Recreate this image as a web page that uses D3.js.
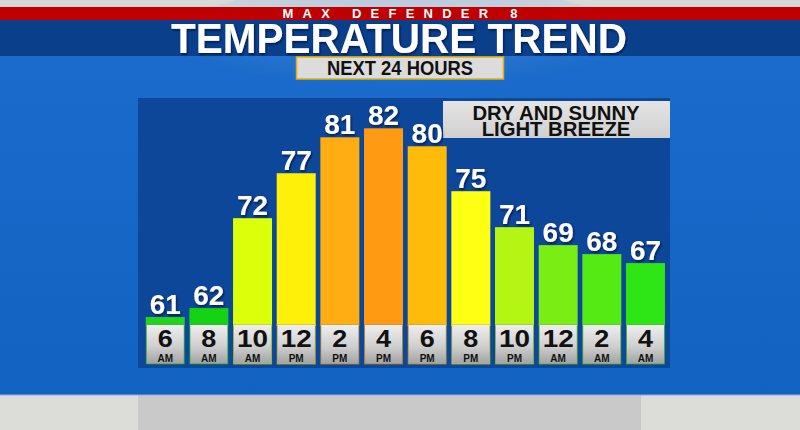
<!DOCTYPE html>
<html><head><meta charset="utf-8">
<script src="https://cdn.jsdelivr.net/npm/d3@7"></script>
<style>html,body{margin:0;padding:0;background:#d8d8d8;}svg{display:block;font-family:"Liberation Sans",Arial,sans-serif;}</style>
</head><body><svg id="c" width="800" height="430"></svg>
<script>
// ---- data ----
const hours   = ["6","8","10","12","2","4","6","8","10","12","2","4"];
const periods = ["AM","AM","AM","PM","PM","PM","PM","PM","PM","AM","AM","AM"];
const temps   = [61,62,72,77,81,82,80,75,71,69,68,67];
const barColors = ["#22d41e","#14d214","#dcff0a","#fff00a","#ffad12","#ff9a12","#ffbb0a","#ffff14","#b4f514","#78ee14","#55ea14","#2ee614"];
const brand = "MAX DEFENDER 8";
const title = "TEMPERATURE TREND";
const subtitle = "NEXT 24 HOURS";
const noteLines = ["DRY AND SUNNY","LIGHT BREEZE"];

const svg = d3.select("#c");
const defs = svg.append("defs");

const sky = defs.append("linearGradient").attr("id","sky").attr("x1",0).attr("y1",0).attr("x2",0).attr("y2",1);
sky.append("stop").attr("offset","0%").attr("stop-color","#1a6bcb");
sky.append("stop").attr("offset","100%").attr("stop-color","#1262c2");
const glow = defs.append("radialGradient").attr("id","glow").attr("cx","50%").attr("cy","0%").attr("r","60%");
glow.append("stop").attr("offset","0%").attr("stop-color","#8fb8e8").attr("stop-opacity",0.5);
glow.append("stop").attr("offset","100%").attr("stop-color","#8fb8e8").attr("stop-opacity",0);
const lab = defs.append("linearGradient").attr("id","lab").attr("x1",0).attr("y1",0).attr("x2",0).attr("y2",1);
lab.append("stop").attr("offset","0%").attr("stop-color","#efefef");
lab.append("stop").attr("offset","55%").attr("stop-color","#cfcfcf");
lab.append("stop").attr("offset","100%").attr("stop-color","#a2a2a2");
const note = defs.append("linearGradient").attr("id","note").attr("x1",0).attr("y1",0).attr("x2",0).attr("y2",1);
note.append("stop").attr("offset","0%").attr("stop-color","#e4e4e4");
note.append("stop").attr("offset","100%").attr("stop-color","#d0d0d0");
const sh = defs.append("filter").attr("id","sh").attr("x","-20%").attr("y","-20%").attr("width","140%").attr("height","140%");
sh.append("feDropShadow").attr("dx",1).attr("dy",1.5).attr("stdDeviation",1).attr("flood-color","#001030").attr("flood-opacity",0.8);

// background
svg.append("rect").attr("x",0).attr("y",0).attr("width",800).attr("height",430).attr("fill","#d8d8d8");
svg.append("rect").attr("x",0).attr("y",56).attr("width",800).attr("height",339).attr("fill","url(#sky)");
svg.append("ellipse").attr("cx",400).attr("cy",70).attr("rx",260).attr("ry",90).attr("fill","url(#glow)");
svg.append("rect").attr("x",0).attr("y",395).attr("width",800).attr("height",35).attr("fill","#dcdcd8");
svg.append("rect").attr("x",138).attr("y",395).attr("width",503).attr("height",35).attr("fill","#c9c9c9");
svg.append("line").attr("x1",0).attr("x2",800).attr("y1",395).attr("y2",395).attr("stroke","#8fb0d8").attr("stroke-width",1);

// header bands
svg.append("rect").attr("x",0).attr("y",7).attr("width",800).attr("height",13).attr("fill","#c00000");
svg.append("rect").attr("x",0).attr("y",20).attr("width",800).attr("height",36).attr("fill","#0a3f8c");
svg.append("text").attr("x",400).attr("y",18).attr("text-anchor","middle").attr("fill","#fff")
  .attr("font-weight","bold").attr("font-size",13).attr("textLength",235).attr("lengthAdjust","spacing").text(brand);
svg.append("text").attr("x",399).attr("y",53).attr("text-anchor","middle").attr("fill","#fff")
  .attr("font-weight","bold").attr("font-size",42).attr("textLength",456).attr("lengthAdjust","spacingAndGlyphs")
  .attr("filter","url(#sh)").text(title);

// subtitle box
svg.append("rect").attr("x",296.5).attr("y",57).attr("width",207).attr("height",22).attr("fill","#dcdcdc")
  .attr("stroke","#e8b000").attr("stroke-width",1.5);
svg.append("text").attr("x",400).attr("y",74.5).attr("text-anchor","middle").attr("fill","#111")
  .attr("font-weight","bold").attr("font-size",19.5).attr("textLength",146).attr("lengthAdjust","spacingAndGlyphs").text(subtitle);

// panel
svg.append("rect").attr("x",138).attr("y",98).attr("width",532).attr("height",270).attr("fill","#0c479a");

// note box
svg.append("rect").attr("x",443).attr("y",101).attr("width",227).attr("height",37).attr("fill","url(#note)");
noteLines.forEach((t,i)=>{
  svg.append("text").attr("x",556).attr("y",120+i*15.5).attr("text-anchor","middle").attr("fill","#111")
    .attr("font-weight","bold").attr("font-size",20.3).text(t);
});

// scales
const idx = d3.range(temps.length);
const x = d3.scaleBand().domain(idx).range([143.4,667.3]).paddingInner(0.107).paddingOuter(0.0535);
const y = d3.scaleLinear().domain([60,82]).range([326,128.3]);

// bars
svg.append("g").selectAll("rect").data(idx).join("rect")
  .attr("x",i=>x(i)).attr("width",x.bandwidth())
  .attr("y",i=>y(temps[i])).attr("height",i=>y(60)-y(temps[i]))
  .attr("fill",i=>barColors[i]);

// value labels
svg.append("g").selectAll("text").data(idx).join("text")
  .attr("x",i=>x(i)+x.bandwidth()/2).attr("y",i=>y(temps[i])-3)
  .attr("text-anchor","middle").attr("fill","#fff").attr("font-weight","bold").attr("font-size",28)
  .attr("filter","url(#sh)").text(i=>temps[i]);

// label boxes (category axis)
const lg = svg.append("g");
lg.selectAll("rect").data(idx).join("rect")
  .attr("x",i=>x(i)+0.5).attr("width",x.bandwidth()-1).attr("y",324.5).attr("height",39.5)
  .attr("fill","url(#lab)").attr("stroke",i=>d3.color(barColors[i]).darker(0.6)).attr("stroke-width",1).attr("stroke-opacity",0.7);
lg.selectAll("text.h").data(idx).join("text").attr("class","h")
  .attr("x",i=>x(i)+x.bandwidth()/2).attr("y",347).attr("text-anchor","middle").attr("fill","#111")
  .attr("font-weight","bold").attr("font-size",24)
  .attr("textLength",i=>hours[i].length*16-1).attr("lengthAdjust","spacingAndGlyphs").text(i=>hours[i]);
lg.selectAll("text.p").data(idx).join("text").attr("class","p")
  .attr("x",i=>x(i)+x.bandwidth()/2).attr("y",362.3).attr("text-anchor","middle").attr("fill","#111")
  .attr("font-weight","bold").attr("font-size",10).text(i=>periods[i]);
</script></body></html>
